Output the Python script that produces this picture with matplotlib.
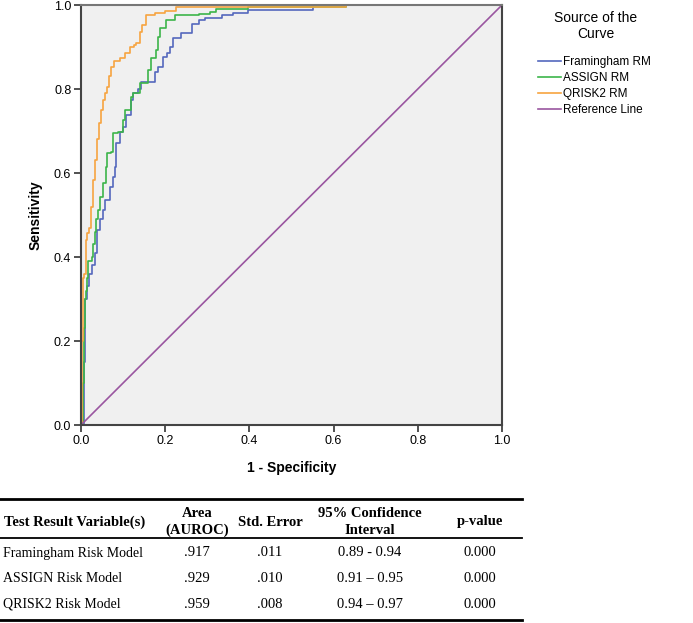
"""ROC curves for three CVD risk models with an AUROC summary table."""

import matplotlib.pyplot as plt
from matplotlib.lines import Line2D

# ROC staircase points (1 - specificity, sensitivity)
fram_x = [0, 0.006, 0.010, 0.014, 0.020, 0.026, 0.033, 0.038, 0.045, 0.052, 0.057, 0.069,
          0.075, 0.081, 0.083, 0.093, 0.100, 0.107, 0.119, 0.124, 0.136, 0.143, 0.164,
          0.175, 0.183, 0.195, 0.204, 0.211, 0.219, 0.238, 0.249, 0.263, 0.280, 0.295,
          0.335, 0.360, 0.397, 0.540, 0.550, 1.0]
fram_y = [0, 0.15, 0.30, 0.33, 0.36, 0.38, 0.41, 0.464, 0.49, 0.512, 0.536, 0.567,
          0.59, 0.614, 0.671, 0.698, 0.71, 0.738, 0.774, 0.79, 0.80, 0.817, 0.817,
          0.84, 0.852, 0.876, 0.886, 0.90, 0.921, 0.933, 0.933, 0.955, 0.964, 0.969,
          0.976, 0.980, 0.988, 0.988, 1.0, 1.0]

assign_x = [0, 0.005, 0.008, 0.010, 0.012, 0.015, 0.017, 0.025, 0.028, 0.033, 0.036,
            0.040, 0.045, 0.052, 0.059, 0.062, 0.071, 0.076, 0.088, 0.100, 0.104, 0.107,
            0.119, 0.124, 0.140, 0.159, 0.166, 0.178, 0.183, 0.188, 0.202, 0.223, 0.247,
            0.280, 0.306, 0.320, 0.397, 0.630, 1.0]
assign_y = [0, 0.10, 0.23, 0.30, 0.32, 0.35, 0.39, 0.40, 0.43, 0.46, 0.49,
            0.512, 0.543, 0.576, 0.614, 0.648, 0.65, 0.695, 0.698, 0.726, 0.75, 0.75,
            0.781, 0.79, 0.814, 0.845, 0.873, 0.893, 0.924, 0.945, 0.964, 0.976, 0.976,
            0.978, 0.983, 0.990, 0.995, 1.0, 1.0]

qrisk_x = [0, 0.003, 0.005, 0.008, 0.012, 0.015, 0.020, 0.024, 0.029, 0.033, 0.037,
           0.042, 0.047, 0.052, 0.057, 0.062, 0.066, 0.071, 0.078, 0.093, 0.105, 0.116,
           0.125, 0.130, 0.140, 0.146, 0.154, 0.176, 0.200, 0.226, 0.630, 1.0]
qrisk_y = [0, 0.20, 0.35, 0.36, 0.44, 0.457, 0.47, 0.52, 0.583, 0.63, 0.68,
           0.72, 0.75, 0.774, 0.79, 0.805, 0.83, 0.852, 0.867, 0.873, 0.885, 0.90,
           0.905, 0.909, 0.936, 0.952, 0.976, 0.98, 0.985, 0.995, 1.0, 1.0]

ref_x = [0, 1]
ref_y = [0, 1]

series = [
    ('Framingham RM', fram_x, fram_y, '#5468bd'),
    ('ASSIGN RM', assign_x, assign_y, '#3cb54a'),
    ('QRISK2 RM', qrisk_x, qrisk_y, '#f7a440'),
]
ref_label = 'Reference Line'
ref_color = '#9a56a0'
legend_title = 'Source of the\nCurve'

# table content
col_headers = ['Test Result Variable(s)', 'Area\n(AUROC)', 'Std. Error',
               '95% Confidence\nInterval', 'p-value']
row_names = ['Framingham Risk Model', 'ASSIGN Risk Model', 'QRISK2 Risk Model']
auroc = ['.917', '.929', '.959']
std_err = ['.011', '.010', '.008']
conf_int = ['0.89 - 0.94', '0.91 \u2013 0.95', '0.94 \u2013 0.97']
p_values = ['0.000', '0.000', '0.000']

W, H = 693, 623
fig = plt.figure(figsize=(W / 100, H / 100), dpi=100)
plt.rcParams['font.family'] = ['Liberation Sans', 'DejaVu Sans']

ax = fig.add_axes([81 / W, 1 - 425 / H, 421 / W, 420 / H])
ax.set_facecolor('#f0f0f0')
for name, xs, ys, col in series:
    ax.plot(xs, ys, drawstyle='steps-post', color=col, lw=1.2, label=name)
ax.plot(ref_x, ref_y, color=ref_color, lw=1.2, label=ref_label)

ax.set_xlim(0, 1)
ax.set_ylim(0, 1)
ticks = [0.0, 0.2, 0.4, 0.6, 0.8, 1.0]
ax.set_xticks(ticks)
ax.set_yticks(ticks)
ax.set_xticklabels([f'{t:.1f}' for t in ticks], fontsize=9)
ax.set_yticklabels([f'{t:.1f}' for t in ticks], fontsize=9)
ax.tick_params(direction='out', length=5, width=1.2, color='#333333', pad=2)
for s in ax.spines.values():
    s.set_color('#444444')
    s.set_linewidth(1.5)
ax.spines['top'].set_color('#777777')
ax.set_xlabel('1 - Specificity', fontsize=10, fontweight='bold', labelpad=10)
ax.set_ylabel('Sensitivity', fontsize=10, fontweight='bold', labelpad=8)


def fy(py):
    return 1 - py / H


# legend: title drawn separately so both lines are centred
fig.text(596 / W, fy(26), legend_title, ha='center', va='center', fontsize=10,
         multialignment='center', linespacing=1.2)
handles = [Line2D([], [], color=c, lw=1.2) for _, _, _, c in series]
handles.append(Line2D([], [], color=ref_color, lw=1.2))
labels = [s[0] for s in series] + [ref_label]
fig.legend(handles, labels, loc='upper left', bbox_to_anchor=(533 / W, fy(51)),
           frameon=False, fontsize=8.5, handlelength=2.0, handletextpad=0.15,
           labelspacing=0.35, borderaxespad=0)

# table rules
for py, lw in [(499, 2.0), (538, 1.3), (620, 2.0)]:
    fig.add_artist(Line2D([0, 522 / W], [fy(py), fy(py)], color='black', lw=lw))

col_x = [75, 197, 270, 370, 480]
serif = ['Liberation Serif', 'DejaVu Serif']
for cx, txt in zip(col_x, col_headers):
    fig.text(cx / W, fy(522), txt, ha='center', va='center', family=serif,
             fontsize=10.5, fontweight='bold', linespacing=1.4)

row_y = [553, 578, 604]
for i, ry in enumerate(row_y):
    fig.text(3 / W, fy(ry), row_names[i], ha='left', va='center', family=serif, fontsize=10)
    for cx, val in zip(col_x[1:], [auroc[i], std_err[i], conf_int[i], p_values[i]]):
        fig.text(cx / W, fy(ry), val, ha='center', va='center', family=serif, fontsize=10.5)

fig.savefig('out.png', dpi=100)
